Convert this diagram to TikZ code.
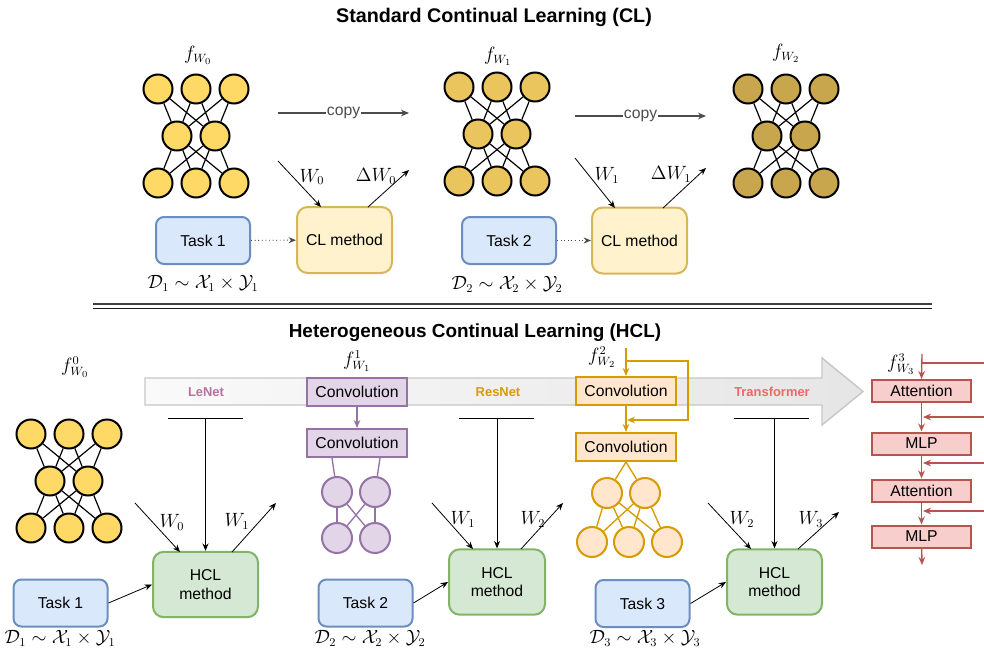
\documentclass[tikz,border=0pt]{standalone}
\usepackage{fontspec}
\setmainfont{Liberation Sans}
\usetikzlibrary{arrows.meta,calc}
\definecolor{nA}{HTML}{FFD966}
\definecolor{nB}{HTML}{EAC45C}
\definecolor{nC}{HTML}{C8A64E}
\definecolor{taskF}{HTML}{DAE8FC}
\definecolor{taskD}{HTML}{6C8EBF}
\definecolor{clF}{HTML}{FFF2CC}
\definecolor{clD}{HTML}{D6B656}
\definecolor{hclF}{HTML}{D5E8D4}
\definecolor{hclD}{HTML}{82B366}
\definecolor{purF}{HTML}{E1D5E7}
\definecolor{purD}{HTML}{9673A6}
\definecolor{orgF}{HTML}{FFE6CC}
\definecolor{orgD}{HTML}{D79B00}
\definecolor{redF}{HTML}{F8CECC}
\definecolor{redD}{HTML}{B85450}
\definecolor{lenetC}{HTML}{B5739D}
\definecolor{trC}{HTML}{EA6B66}
\tikzset{
  neuron/.style={circle, draw=black, line width=1.5pt, minimum size=21.75pt, inner sep=0pt},
  nedge/.style={line width=0.9pt},
  txt/.style={font=\fontsize{11.8}{14}\selectfont},
  mlbl/.style={font=\fontsize{13.5}{15}\selectfont, inner sep=0pt},
  taskbox/.style={txt, rounded corners=6pt, draw=taskD, fill=taskF, line width=1.5pt, minimum width=70.5pt, minimum height=35.25pt},
  clbox/.style={txt, rounded corners=8pt, draw=clD, fill=clF, line width=1.5pt, minimum width=71.25pt, minimum height=49.5pt},
  hclbox/.style={txt, rounded corners=8pt, draw=hclD, fill=hclF, line width=1.5pt, minimum height=49pt, align=center},
  convbox/.style={txt, line width=1.5pt, minimum width=75pt, minimum height=21pt, inner sep=0pt},
  trbox/.style={txt, draw=redD, fill=redF, line width=1.5pt, minimum width=74.25pt, minimum height=16.5pt, inner sep=0pt},
  arr/.style={-{Stealth[length=5.5pt,width=4.5pt]}, line width=0.6pt},
  dotarr/.style={-{Stealth[length=5.5pt,width=4.5pt]}, line width=0.7pt, dotted, black!70},
  copyarr/.style={-{Stealth[length=6pt,width=5pt]}, line width=0.8pt, black!70},
  arch/.style={font=\bfseries\fontsize{9.7}{11}\selectfont},
}
\newcommand{\mynet}[4]{% prefix, cx, y0, fill
  \foreach \i/\dx in {1/-38,2/0,3/38} {\node[neuron, fill=#4] (#1t\i) at (#2+\dx,#3) {};}
  \foreach \i/\dx in {1/-19,2/19} {\node[neuron, fill=#4] (#1m\i) at (#2+\dx,#3+47) {};}
  \foreach \i/\dx in {1/-38,2/0,3/38} {\node[neuron, fill=#4] (#1b\i) at (#2+\dx,#3+94) {};}
  \foreach \i in {1,2,3} {\foreach \j in {1,2} {\draw[nedge] (#1t\i) -- (#1m\j); \draw[nedge] (#1m\j) -- (#1b\i);}}
}
\begin{document}
\begin{tikzpicture}[x=0.75pt,y=-0.75pt]
\useasboundingbox[fill=white] (0,0) rectangle (984,649);

% ---------------- Standard CL ----------------
\node[font=\bfseries\fontsize{14.8}{17}\selectfont] (title1) at (494,17) {Standard Continual Learning (CL)};

\mynet{a}{196}{89}{nA}
\mynet{b}{497}{87}{nB}
\mynet{c}{786}{89}{nC}
\node[mlbl] (fa) at (198,55) {$f_{W_0}$};
\node[mlbl] (fb) at (498,56) {$f_{W_1}$};
\node[mlbl] (fc) at (786,53) {$f_{W_2}$};

\coordinate (c1s) at (278,113); \coordinate (c1e) at (409,113);
\draw[copyarr] (c1s) -- node[txt, fill=white, inner sep=1pt] (copy1) {copy} (c1e);
\coordinate (c2s) at (575,116); \coordinate (c2e) at (706,116);
\draw[copyarr] (c2s) -- node[txt, fill=white, inner sep=1pt] (copy2) {copy} (c2e);

\node[taskbox] (task1) at (203,240.5) {Task 1};
\node[clbox] (cl1) at (344.5,240) {CL method};
\draw[dotarr] (task1) -- (cl1);
\node[mlbl] (d1) at (203,283) {$\mathcal{D}_1\sim\mathcal{X}_1\times\mathcal{Y}_1$};

\node[taskbox] (task2) at (509,240.5) {Task 2};
\node[clbox] (cl2) at (639.5,240.5) {CL method};
\draw[dotarr] (task2) -- (cl2);
\node[mlbl] (d2) at (507,284) {$\mathcal{D}_2\sim\mathcal{X}_2\times\mathcal{Y}_2$};

\coordinate (w0s) at (278,161); \coordinate (w0e) at (321,207);
\draw[arr] (w0s) -- (w0e);
\node[mlbl] (lw0) at (312,177) {$W_0$};
\coordinate (dw0s) at (368,207); \coordinate (dw0e) at (409,170);
\draw[arr] (dw0s) -- (dw0e);
\node[mlbl] (ldw0) at (376,176) {$\Delta W_0$};

\coordinate (w1s) at (575,158); \coordinate (w1e) at (615,208);
\draw[arr] (w1s) -- (w1e);
\node[mlbl] (lw1) at (607,175) {$W_1$};
\coordinate (dw1s) at (663,208); \coordinate (dw1e) at (706,168);
\draw[arr] (dw1s) -- (dw1e);
\node[mlbl] (ldw1) at (671,174) {$\Delta W_1$};

% separator
\coordinate (sepL1) at (93,304); \coordinate (sepR1) at (932,304);
\coordinate (sepL2) at (93,308.5); \coordinate (sepR2) at (932,308.5);
\draw[line width=1.1pt, black!75] (sepL1) -- (sepR1);
\draw[line width=1.1pt, black!90] (sepL2) -- (sepR2);

% ---------------- HCL ----------------
\node[font=\bfseries\fontsize{14.2}{17}\selectfont] (title2) at (475,333) {Heterogeneous Continual Learning (HCL)};

% banner arrow
\shade[left color=black!2, right color=black!10] (145,378) -- (822,378) -- (822,358) -- (863,391.5) -- (822,425) -- (822,405) -- (145,405) -- cycle;
\draw[black!22, line width=1.1pt] (145,378) -- (822,378) -- (822,358) -- (863,391.5) -- (822,425) -- (822,405) -- (145,405) -- cycle;
\node[arch, text=lenetC] (lenet) at (206,392) {LeNet};
\node[arch, text=orgD] (resnet) at (498,392) {ResNet};
\node[arch, text=trC] (transf) at (772,392) {Transformer};

% left network
\mynet{d}{69}{434}{nA}
\node[mlbl] (fd) at (75,367) {$f^{0}_{W_0}$};

% HCL boxes and tasks
\node[hclbox, minimum width=78.75pt] (hcl1) at (205.5,584.5) {HCL\\method};
\node[hclbox, minimum width=72pt] (hcl2) at (497,582) {HCL\\method};
\node[hclbox, minimum width=71.25pt] (hcl3) at (774.5,582) {HCL\\method};
\node[taskbox] (task1b) at (60.5,603) {Task 1};
\node[taskbox] (task2b) at (365.5,603) {Task 2};
\node[taskbox] (task3b) at (642.5,603.5) {Task 3};
\draw[arr] (task1b.east) -- (hcl1.west);
\draw[arr] (task2b.east) -- (hcl2.west);
\draw[arr] (task3b.east) -- (hcl3.west);
\node[mlbl] (d1b) at (60,638.5) {$\mathcal{D}_1\sim\mathcal{X}_1\times\mathcal{Y}_1$};
\node[mlbl] (d2b) at (370,638.5) {$\mathcal{D}_2\sim\mathcal{X}_2\times\mathcal{Y}_2$};
\node[mlbl] (d3b) at (645,638.5) {$\mathcal{D}_3\sim\mathcal{X}_3\times\mathcal{Y}_3$};

% T bars
\coordinate (tb1l) at (168,418); \coordinate (tb1r) at (243,418); \coordinate (tb1m) at (205.5,418);
\draw[line width=0.7pt] (tb1l) -- (tb1r);
\draw[arr] (tb1m) -- (hcl1.north);
\coordinate (tb2l) at (459,418); \coordinate (tb2r) at (534,418); \coordinate (tb2m) at (497,418);
\draw[line width=0.7pt] (tb2l) -- (tb2r);
\draw[arr] (tb2m) -- (hcl2.north);
\coordinate (tb3l) at (734,418); \coordinate (tb3r) at (809,418); \coordinate (tb3m) at (774.5,418);
\draw[line width=0.7pt] (tb3l) -- (tb3r);
\draw[arr] (tb3m) -- (hcl3.north);

% W arrows bottom
\coordinate (bw0s) at (135,503); \coordinate (bw0e) at (180,552);
\draw[arr] (bw0s) -- (bw0e); \node[mlbl] (lbw0) at (172,522) {$W_0$};
\coordinate (bw1s) at (232,552); \coordinate (bw1e) at (276,503);
\draw[arr] (bw1s) -- (bw1e); \node[mlbl] (lbw1) at (237,521) {$W_1$};
\coordinate (cw1s) at (432,503); \coordinate (cw1e) at (473,549);
\draw[arr] (cw1s) -- (cw1e); \node[mlbl] (lcw1) at (463,519) {$W_1$};
\coordinate (cw2s) at (521,549); \coordinate (cw2e) at (563,503);
\draw[arr] (cw2s) -- (cw2e); \node[mlbl] (lcw2) at (533,519) {$W_2$};
\coordinate (ew2s) at (708,503); \coordinate (ew2e) at (751,549);
\draw[arr] (ew2s) -- (ew2e); \node[mlbl] (lew2) at (742,519) {$W_2$};
\coordinate (ew3s) at (798,549); \coordinate (ew3e) at (839,512);
\draw[arr] (ew3s) -- (ew3e); \node[mlbl] (lew3) at (811,519) {$W_3$};

% LeNet column (purple)
\node[mlbl] (fp) at (357,361) {$f^{1}_{W_1}$};
\node[convbox, draw=purD, fill=purF] (conv1p) at (357,392) {Convolution};
\node[convbox, draw=purD, fill=purF] (conv2p) at (357,443) {Convolution};
\draw[purD, line width=1.2pt, -{Stealth[length=6pt,width=5pt]}] (conv1p) -- (conv2p);
\foreach \n/\x/\y in {p1/337/492, p2/375/492, p3/337/538, p4/375/538}
  {\node[neuron, draw=purD, fill=purF, minimum size=22.5pt] (\n) at (\x,\y) {};}
\draw[purD, line width=1pt] ($(conv2p.south)+(-25,0)$) -- (p1);
\draw[purD, line width=1pt] ($(conv2p.south)+(23,0)$) -- (p2);
\foreach \a in {p1,p2} {\foreach \b in {p3,p4} {\draw[purD, line width=1pt] (\a) -- (\b);}}

% ResNet column (orange)
\node[mlbl] (fo) at (602,357) {$f^{2}_{W_2}$};
\node[convbox, draw=orgD, fill=orgF] (conv1o) at (626,391) {Convolution};
\node[convbox, draw=orgD, fill=orgF] (conv2o) at (626,447) {Convolution};
\coordinate (oin) at (626,348); \coordinate (oj) at (626,361);
\coordinate (oc1) at (688,361); \coordinate (oc2) at (688,420); \coordinate (oend) at (627,420);
\draw[orgD, line width=1.2pt, -{Stealth[length=6pt,width=5pt]}] (oin) -- (conv1o);
\draw[orgD, line width=1.2pt, -{Stealth[length=6pt,width=5pt]}] (conv1o) -- (conv2o);
\draw[orgD, line width=1.2pt, -{Stealth[length=6pt,width=5pt]}] (oj) -- (oc1) -- (oc2) -- (oend);
\foreach \n/\x/\y in {o1/607/493, o2/645/493, o3/592/542, o4/629/542, o5/667/542}
  {\node[neuron, draw=orgD, fill=orgF, minimum size=22.5pt] (\n) at (\x,\y) {};}
\draw[orgD, line width=1pt] (conv2o.south) -- (o1);
\draw[orgD, line width=1pt] (conv2o.south) -- (o2);
\foreach \a in {o1,o2} {\foreach \b in {o3,o4,o5} {\draw[orgD, line width=1pt] (\a) -- (\b);}}

% Transformer column (red)
\node[mlbl] (fr) at (901,364) {$f^{3}_{W_3}$};
\node[trbox] (att1) at (921.5,391) {Attention};
\node[trbox] (mlp1) at (921.5,443.5) {MLP};
\node[trbox] (att2) at (921.5,490.5) {Attention};
\node[trbox] (mlp2) at (921.5,536.5) {MLP};
\tikzset{rarr/.style={redD, line width=1pt, -{Stealth[length=6pt,width=5pt]}}}
\coordinate (rin) at (922,354); \coordinate (rj) at (922,363); \coordinate (rjR) at (984,363);
\coordinate (rout) at (922,565);
\draw[rarr] (rin) -- (att1.north);
\draw[redD, line width=1pt] (rj) -- (rjR);
\draw[rarr] (att1) -- (mlp1);
\draw[rarr] (mlp1) -- (att2);
\draw[rarr] (att2) -- (mlp2);
\draw[rarr] (mlp2) -- (rout);
\coordinate (s1a) at (984,417); \coordinate (s1b) at (923,417);
\coordinate (s2a) at (984,463); \coordinate (s2b) at (923,463);
\coordinate (s3a) at (984,511); \coordinate (s3b) at (923,511);
\draw[rarr] (s1a) -- (s1b);
\draw[rarr] (s2a) -- (s2b);
\draw[rarr] (s3a) -- (s3b);
\end{tikzpicture}
\end{document}
